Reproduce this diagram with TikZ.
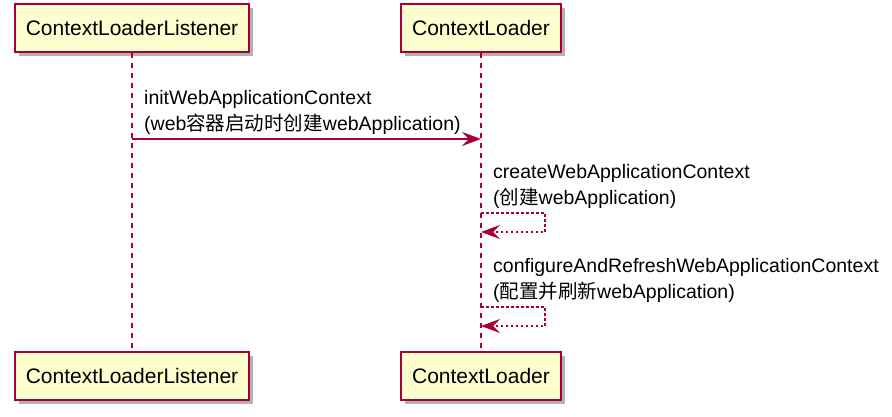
\documentclass[tikz,border=0pt]{standalone}
\usepackage{fontspec}
\setmainfont{Liberation Sans}
\newfontfamily\cjk{Noto Sans CJK SC}
\usepackage{tikz}
\usetikzlibrary{arrows.meta,positioning,shadows,calc}
\definecolor{umlred}{HTML}{A80036}
\definecolor{umlfill}{HTML}{FEFECE}
\tikzstyle{participant}=[draw=umlred, fill=umlfill, line width=1.5pt, minimum height=48pt, inner xsep=11pt, font=\fontsize{21}{25}\selectfont, drop shadow={shadow xshift=4pt, shadow yshift=-4pt, opacity=0.3, fill=black}]
\tikzstyle{lifeline}=[draw=umlred, line width=1.3pt, dash pattern=on 5pt off 5pt]
\tikzstyle{msg}=[draw=umlred, line width=1.4pt, -{Stealth[length=19pt,width=14pt,inset=7pt]}]
\tikzstyle{reply}=[msg, dash pattern=on 2.5pt off 2.5pt]
\tikzstyle{msglabel}=[anchor=south west, inner sep=0pt, align=left, font=\fontsize{19.5}{26}\selectfont]
\begin{document}
\begin{tikzpicture}[x=1pt, y=-1pt]

    \useasboundingbox (0,0) rectangle (892,416);

    % Participants, top and bottom
    \foreach \name/\x/\txt in {L/132/ContextLoaderListener, R/481/ContextLoader} {
        \node[participant] (\name top) at (\x,28) {\txt};
        \node[participant] (\name bot) at (\x,376) {\txt};
    }

    % Lifelines
    \draw[lifeline] (Ltop.south) -- (Lbot.north);
    \draw[lifeline] (Rtop.south) -- (Rbot.north);

    % initWebApplicationContext
    \coordinate (m1a) at (Ltop.south |- 0,139);
    \coordinate (m1b) at (Rtop.south |- 0,139);
    \draw[msg] (m1a) -- (m1b);
    \node[msglabel] (t1) at ($(m1a)+(12,-4)$)
        {initWebApplicationContext\\(web{\cjk 容器启动时创建}webApplication)};

    % createWebApplicationContext (self call)
    \coordinate (m2a) at (Rtop.south |- 0,213);
    \coordinate (m2b) at (Rtop.south |- 0,232);
    \draw[reply] (m2a) -- ++(64,0) -- ++(0,19) -- (m2b);
    \node[msglabel] (t2) at ($(m2a)+(12,-4)$)
        {createWebApplicationContext\\({\cjk 创建}webApplication)};

    % configureAndRefreshWebApplicationContext (self call)
    \coordinate (m3a) at (Rtop.south |- 0,307);
    \coordinate (m3b) at (Rtop.south |- 0,326);
    \draw[reply] (m3a) -- ++(64,0) -- ++(0,19) -- (m3b);
    \node[msglabel] (t3) at ($(m3a)+(12,-4)$)
        {configureAndRefreshWebApplicationContext\\({\cjk 配置并刷新}webApplication)};

\end{tikzpicture}
\end{document}
